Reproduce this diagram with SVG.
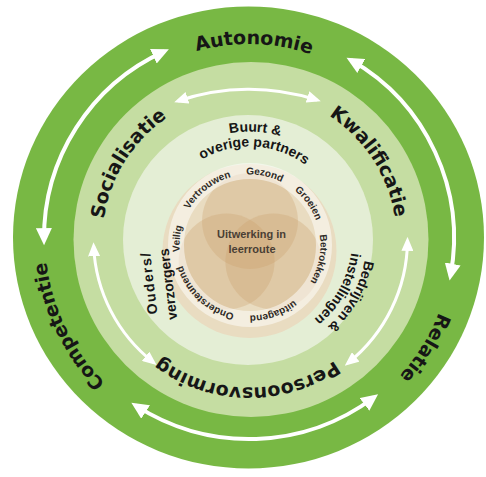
<svg xmlns="http://www.w3.org/2000/svg" width="486" height="477" viewBox="0 0 486 477">
<style>
.big{font-family:"DejaVu Sans",sans-serif;font-weight:bold;font-size:19px;fill:#161616}
.mid{font-family:"Liberation Sans",Arial,sans-serif;font-weight:bold;font-size:14px;fill:#161616}
.sm{font-family:"Liberation Sans",Arial,sans-serif;font-weight:bold;font-size:10px;fill:#2e2a26}
.ctr{font-family:"Liberation Sans",Arial,sans-serif;font-weight:bold;font-size:11px;fill:#4a3f35}
.arrO{fill:none;stroke:#fff;stroke-width:4;marker-start:url(#hO);marker-end:url(#hO)}
.arrM{fill:none;stroke:#fff;stroke-width:3;marker-start:url(#hM);marker-end:url(#hM)}
.venn{fill:#c9a06a;fill-opacity:.3}
</style>
<defs>
<marker id="hO" markerUnits="userSpaceOnUse" markerWidth="18" markerHeight="16" viewBox="0 0 18 16" refX="12" refY="8" orient="auto-start-reverse"><path d="M0,0 L17,8 L0,16 z" fill="#fff"/></marker>
<marker id="hM" markerUnits="userSpaceOnUse" markerWidth="14" markerHeight="12" viewBox="0 0 14 12" refX="10" refY="6" orient="auto-start-reverse"><path d="M0,0 L14,6 L0,12 z" fill="#fff"/></marker>
<path id="pAut" d="M56.25,216.04 A194,194 0 0 1 442.64,226.16"/>
<path id="pRel" d="M371.77,75.08 A204,204 0 0 1 156.39,419.77"/>
<path id="pCom" d="M322.11,428.45 A204,204 0 0 1 143.93,63.14"/>
<path id="pSoc" d="M161.03,356.90 A147,147 0 0 1 316.24,108.52"/>
<path id="pKwa" d="M180.49,109.71 A147,147 0 0 1 340.00,355.34"/>
<path id="pPer" d="M396.69,254.97 A148,148 0 0 1 101.86,249.82"/>
<path id="pBuu" d="M142.55,224.47 A108,108 0 0 1 357.43,235.73"/>
<path id="pOve" d="M157.40,226.56 A93,93 0 0 1 342.44,236.25"/>
<path id="pBed" d="M315.26,142.73 A117,117 0 0 1 201.54,346.22"/>
<path id="pIns" d="M306.88,155.08 A102,102 0 0 1 207.68,332.54"/>
<path id="pGez" d="M182.51,224.62 A70.5,70.5 0 0 1 320.00,253.35"/>
<path id="pVer" d="M190.67,283.09 A70.5,70.5 0 0 1 301.81,197.19"/>
<path id="pGro" d="M214.11,184.32 A70.5,70.5 0 0 1 295.88,298.53"/>
<path id="pBet" d="M270.14,177.44 A70.5,70.5 0 0 1 241.90,315.03"/>
<path id="pUit" d="M318.35,227.71 A70.5,70.5 0 0 1 185.70,273.90"/>
<path id="pOnd" d="M297.17,297.39 A70.5,70.5 0 0 1 194.44,201.60"/>
<path id="pVei" d="M237.64,314.41 A70.5,70.5 0 0 1 250.12,174.50"/>
</defs>
<rect width="486" height="477" fill="#fff"/>
<g id="rings">
<ellipse cx="248.5" cy="237.5" rx="235.5" ry="231" fill="#78b844"/>
<circle cx="251" cy="239.5" r="177.5" fill="#c5dda2"/>
<circle cx="248" cy="240" r="125" fill="#e4eed5"/>
</g>
<g id="venn">
<circle cx="249.5" cy="251" r="87" fill="#e9dcc1"/>
<circle class="venn" cx="250" cy="221" r="48"/>
<circle class="venn" cx="226.6" cy="261.5" r="48"/>
<circle class="venn" cx="273.4" cy="261.5" r="48"/>
<circle cx="250" cy="245" r="74" fill="none" stroke="#fff" stroke-opacity=".5" stroke-width="16"/>
</g>
<g id="node-autonomie"><text class="big"><textPath href="#pAut" startOffset="50%" text-anchor="middle">Autonomie</textPath></text></g>
<g id="node-relatie"><text class="big"><textPath href="#pRel" startOffset="50%" text-anchor="middle">Relatie</textPath></text></g>
<g id="node-competentie"><text class="big"><textPath href="#pCom" startOffset="50%" text-anchor="middle">Competentie</textPath></text></g>
<g id="node-socialisatie"><text class="big"><textPath href="#pSoc" startOffset="50%" text-anchor="middle">Socialisatie</textPath></text></g>
<g id="node-kwalificatie"><text class="big"><textPath href="#pKwa" startOffset="50%" text-anchor="middle">Kwalificatie</textPath></text></g>
<g id="node-persoonsvorming"><text class="big"><textPath href="#pPer" startOffset="50%" text-anchor="middle">Persoonsvorming</textPath></text></g>
<g id="node-buurt">
<text class="mid"><textPath href="#pBuu" startOffset="50%" text-anchor="middle">Buurt &amp;</textPath></text>
<text class="mid"><textPath href="#pOve" startOffset="50%" text-anchor="middle">overige partners</textPath></text>
</g>
<g id="node-bedrijven">
<text class="mid"><textPath href="#pBed" startOffset="50%" text-anchor="middle">Bedrijven &amp;</textPath></text>
<text class="mid"><textPath href="#pIns" startOffset="50%" text-anchor="middle">instellingen</textPath></text>
</g>
<g id="node-ouders">
<text class="mid" text-anchor="middle" letter-spacing="1.5" transform="translate(153.7,282.4) rotate(-97)">Ouders/</text>
<text class="mid" text-anchor="middle" transform="translate(172.9,283.6) rotate(-97)">verzorgers</text>
</g>
<g id="node-waarden">
<text class="sm"><textPath href="#pGez" startOffset="50%" text-anchor="middle">Gezond</textPath></text>
<text class="sm"><textPath href="#pVer" startOffset="50%" text-anchor="middle">Vertrouwen</textPath></text>
<text class="sm"><textPath href="#pGro" startOffset="50%" text-anchor="middle">Groeien</textPath></text>
<text class="sm"><textPath href="#pBet" startOffset="50%" text-anchor="middle">Betrokken</textPath></text>
<text class="sm"><textPath href="#pUit" startOffset="50%" text-anchor="middle">uitdagend</textPath></text>
<text class="sm"><textPath href="#pOnd" startOffset="50%" text-anchor="middle">Ondersteunend</textPath></text>
<text class="sm"><textPath href="#pVei" startOffset="50%" text-anchor="middle">Veilig</textPath></text>
</g>
<g id="node-center">
<text class="ctr" x="251.5" y="238" text-anchor="middle">Uitwerking in</text>
<text class="ctr" x="252" y="253" text-anchor="middle">leerroute</text>
</g>
<g id="connectors">
<path class="arrO" d="M44.01,240.15 A205,205 0 0 1 164.31,51.31"/>
<path class="arrO" d="M350.88,60.11 A205,205 0 0 1 450.50,275.71"/>
<path class="arrO" d="M374.08,397.25 A205,201 0 0 1 135.56,405.42"/>
<path class="arrM" d="M178,101 A220,220 0 0 1 317,100"/>
<path class="arrM" d="M153.46,362.43 A156,156 0 0 1 93.65,246.30"/>
<path class="arrM" d="M407.49,240.88 A158,158 0 0 1 347.86,363.15"/>
</g>
</svg>
